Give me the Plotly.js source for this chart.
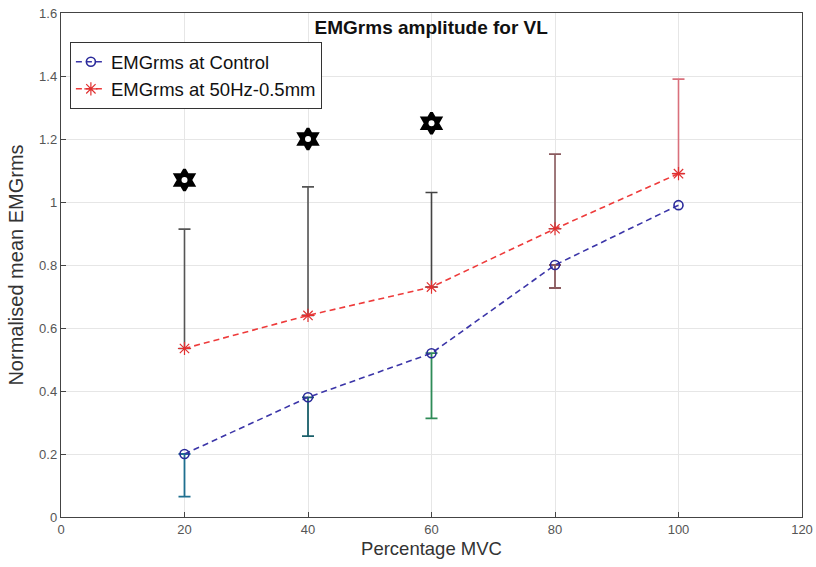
<!DOCTYPE html>
<html>
<head>
<meta charset="utf-8">
<script src="https://cdn.plot.ly/plotly-3.0.1.min.js"></script>
<style>html,body{margin:0;padding:0;background:#fff;}#chart{width:816px;height:567px;}</style>
</head>
<body>
<div id="chart"></div>
<script>
// Data
const mvc = [20, 40, 60, 80, 100];
const ctrlMean = [0.20, 0.38, 0.52, 0.80, 0.99];
const ctrlLower = [0.065, 0.257, 0.313, 0.727, 0.99];
const vibMean = [0.535, 0.64, 0.73, 0.915, 1.09];
const vibUpper = [0.914, 1.048, 1.03, 1.152, 1.39];
const sigX = [20, 40, 60];
const sigY = [1.07, 1.20, 1.25];
const xTicks = [0, 20, 40, 60, 80, 100, 120];
const yTicks = [0, 0.2, 0.4, 0.6, 0.8, 1, 1.2, 1.4, 1.6];
const yTickText = ['0', '0.2', '0.4', '0.6', '0.8', '1', '1.2', '1.4', '1.6'];

// styles
const lowColors = ['#1f6f8f', '#1a5f6a', '#2e8b57', '#8a5a5e', '#3a35a0'];
const upColors = ['#555555', '#555555', '#444444', '#8a5a5e', '#d9707c'];
const FONT = 'Liberation Sans, Arial, sans-serif';

const traces = [];
// error bar traces (per point colours)
mvc.forEach((x, i) => {
  traces.push({
    x: [x], y: [vibMean[i]], type: 'scatter', mode: 'none', showlegend: false, hoverinfo: 'skip',
    error_y: {type: 'data', symmetric: false, array: [vibUpper[i] - vibMean[i]], arrayminus: [0],
      color: upColors[i], thickness: 1.6, width: 6}
  });
  if (ctrlMean[i] - ctrlLower[i] > 0.001) {
    traces.push({
      x: [x], y: [ctrlMean[i]], type: 'scatter', mode: 'none', showlegend: false, hoverinfo: 'skip',
      error_y: {type: 'data', symmetric: false, array: [0], arrayminus: [ctrlMean[i] - ctrlLower[i]],
        color: lowColors[i], thickness: 1.8, width: 6}
    });
  }
});

traces.push({
  x: mvc, y: ctrlMean, type: 'scatter', mode: 'lines+markers', name: 'EMGrms at Control',
  line: {color: '#3b35a8', width: 1.6, dash: '6px,4px'},
  marker: {symbol: 'circle-open', size: 9, color: '#2a2a9a', line: {width: 1.6}}
});
traces.push({
  x: mvc, y: vibMean, type: 'scatter', mode: 'lines+markers', name: 'EMGrms at 50Hz-0.5mm',
  line: {color: '#ee3b3b', width: 1.6, dash: '6px,4px'},
  marker: {symbol: 'asterisk-open', size: 11, color: '#e03030', line: {width: 1.2, color: '#e03030'}}
});
// significance markers
traces.push({
  x: sigX, y: sigY, type: 'scatter', mode: 'markers', showlegend: false, hoverinfo: 'skip',
  marker: {symbol: 'hexagram', size: 16, color: '#000', line: {width: 3, color: '#000'}}
});
traces.push({
  x: sigX, y: sigY, type: 'scatter', mode: 'markers', showlegend: false, hoverinfo: 'skip',
  marker: {symbol: 'circle', size: 6, color: '#fff', line: {width: 0}}
});

const axisCommon = {
  showline: true, linecolor: '#444', linewidth: 1.2, mirror: true,
  ticks: 'inside', ticklen: 5, tickcolor: '#444', tickwidth: 1,
  showgrid: true, gridcolor: '#e6e6e6', gridwidth: 1, zeroline: false,
  tickfont: {family: FONT, size: 13, color: '#555'}
};

const layout = {
  width: 816, height: 567,
  margin: {l: 61, r: 14, t: 13, b: 50},
  paper_bgcolor: '#fff', plot_bgcolor: '#fff',
  title: {text: '<b>EMGrms amplitude for VL</b>', x: 0.5285, xanchor: 'center', y: 0.951, yanchor: 'middle',
    font: {family: FONT, size: 19, color: '#111'}},
  xaxis: Object.assign({}, axisCommon, {
    range: [0, 120], tickvals: xTicks, ticktext: xTicks.map(String),
    title: {text: 'Percentage MVC', standoff: 6, font: {family: FONT, size: 18.5, color: '#333'}}
  }),
  yaxis: Object.assign({}, axisCommon, {
    range: [0, 1.6], tickvals: yTicks, ticktext: yTickText,
    title: {text: 'Normalised mean EMGrms', standoff: 10, font: {family: FONT, size: 20, color: '#333'}}
  }),
  legend: {
    x: 0.012, y: 0.942, xanchor: 'left', yanchor: 'top',
    bgcolor: '#fff', bordercolor: '#333', borderwidth: 1,
    font: {family: FONT, size: 18.5, color: '#111'},
    tracegroupgap: 0, itemwidth: 30
  },
  showlegend: true
};

Plotly.newPlot('chart', traces, layout, {displayModeBar: false, staticPlot: true});
</script>
</body>
</html>
